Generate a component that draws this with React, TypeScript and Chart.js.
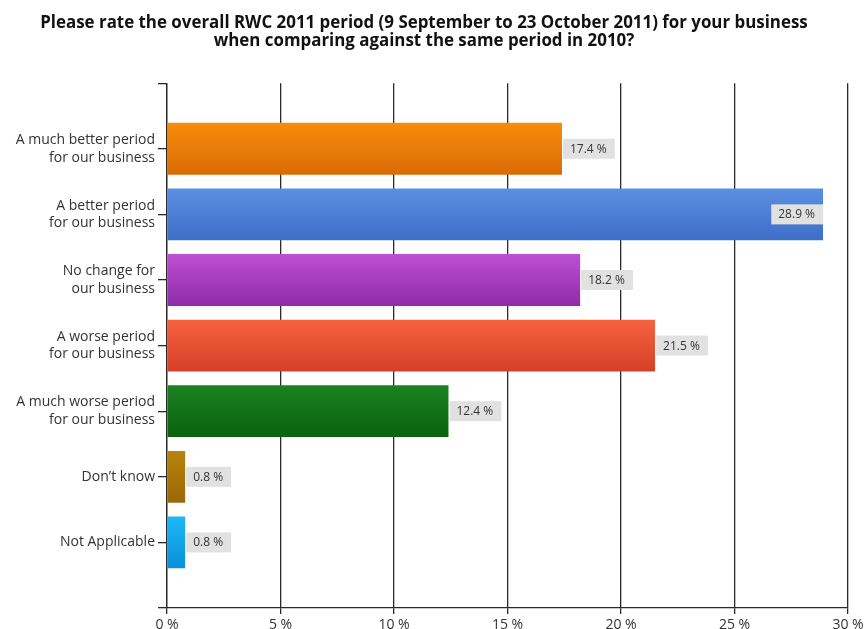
import React, { useEffect, useRef } from "react";
import { Chart, registerables } from "chart.js";

Chart.register(...registerables);

const TITLE_LINES = [
  "Please rate the overall RWC 2011 period (9 September to 23 October 2011) for your business",
  "when comparing against the same period in 2010?",
];

const CATEGORIES: string[][] = [
  ["A much better period", "for our business"],
  ["A better period", "for our business"],
  ["No change for", "our business"],
  ["A worse period", "for our business"],
  ["A much worse period", "for our business"],
  ["Don\u2019t know"],
  ["Not Applicable"],
];

const VALUES = [17.4, 28.9, 18.2, 21.5, 12.4, 0.8, 0.8];

const X_MIN = 0;
const X_MAX = 30;
const X_STEP = 5;

const GRADIENT_TOP = ["#F98C0C", "#5B8FE3", "#BD50D3", "#F6623F", "#1A8322", "#B8820C", "#1DB8F6"];
const GRADIENT_BOTTOM = ["#DA6A06", "#3E6DC7", "#8F2BA9", "#D5402A", "#0A620E", "#9C6808", "#0A90D6"];

const LABEL_FONT = '"Open Sans", "Liberation Sans", Arial, sans-serif';

const gradientPlugin = {
  id: "barGradient",
  beforeDatasetsDraw(chart: any) {
    const ctx = chart.ctx;
    const meta = chart.getDatasetMeta(0);
    meta.data.forEach((el: any, i: number) => {
      const h = el.height;
      const g = ctx.createLinearGradient(0, el.y - h / 2, 0, el.y + h / 2);
      g.addColorStop(0, GRADIENT_TOP[i]);
      g.addColorStop(1, GRADIENT_BOTTOM[i]);
      el.options.backgroundColor = g;
    });
  },
};

const valueLabelPlugin = {
  id: "valueLabels",
  afterDatasetsDraw(chart: any) {
    const ctx = chart.ctx;
    const meta = chart.getDatasetMeta(0);
    const area = chart.chartArea;
    ctx.save();
    ctx.font = `12px ${LABEL_FONT}`;
    ctx.textBaseline = "middle";
    ctx.textAlign = "left";
    meta.data.forEach((el: any, i: number) => {
      const text = `${VALUES[i]} %`;
      const tw = ctx.measureText(text).width;
      const bw = tw + 15;
      const bh = 20;
      let left = el.x + 1;
      if (left + bw > area.right) left = el.x - bw;
      ctx.fillStyle = "#E1E1E1";
      ctx.fillRect(left, el.y - bh / 2, bw, bh);
      ctx.fillStyle = "#333";
      ctx.fillText(text, left + 7, el.y + 0.5);
    });
    ctx.restore();
  },
};

export default function App() {
  const canvasRef = useRef<HTMLCanvasElement | null>(null);

  useEffect(() => {
    const canvas = canvasRef.current;
    if (!canvas) return;
    const chart = new Chart(canvas, {
      type: "bar",
      data: {
        datasets: [
          {
            data: VALUES.map((v, i) => ({ x: v, y: i })) as any,
            backgroundColor: GRADIENT_TOP,
            borderWidth: 0,
            barPercentage: 0.79,
            categoryPercentage: 1,
          },
        ],
      },
      options: {
        indexAxis: "y",
        responsive: false,
        animation: false,
        devicePixelRatio: 1,
        layout: { padding: { left: 0, right: 16, top: 0, bottom: 0 } },
        plugins: {
          legend: { display: false },
          tooltip: { enabled: false },
          title: {
            display: true,
            text: TITLE_LINES,
            color: "#111",
            font: { family: LABEL_FONT, size: 16.9, weight: "bold", lineHeight: 1.07 },
            padding: { top: 14, bottom: 33 },
          },
        },
        scales: {
          x: {
            type: "linear",
            position: "bottom",
            min: X_MIN,
            max: X_MAX,
            offset: false,
            ticks: {
              stepSize: X_STEP,
              color: "#333",
              font: { family: LABEL_FONT, size: 14 },
              padding: 3,
              callback: (v: any) => `${v} %`,
            },
            grid: { color: "#2a2a2a", lineWidth: 1.3, tickLength: 6, drawTicks: true, offset: false },
            border: { display: true, color: "#2a2a2a", width: 1.3 },
            afterFit: (scale: any) => {
              scale.height = 21;
              scale.paddingRight = 0;
              scale.paddingLeft = 0;
            },
          },
          y: {
            type: "linear",
            position: "left",
            reverse: true,
            offset: false,
            min: -1,
            max: CATEGORIES.length,
            ticks: {
              stepSize: 1,
              autoSkip: false,
              color: "#333",
              padding: 3,
              font: { family: LABEL_FONT, size: 14, lineHeight: 1.25 },
              callback: (v: any) => {
                const idx = Number(v);
                return Number.isInteger(idx) && idx >= 0 && idx < CATEGORIES.length ? CATEGORIES[idx] : "";
              },
            },
            grid: { drawOnChartArea: false, drawTicks: true, tickLength: 9, color: "#2a2a2a", lineWidth: 1.3, offset: false },
            border: { display: true, color: "#2a2a2a", width: 1.3 },
            afterFit: (scale: any) => {
              scale.width = 167;
            },
          },
        },
      } as any,
      plugins: [gradientPlugin, valueLabelPlugin],
    });
    return () => chart.destroy();
  }, []);

  return (
    <div style={{ position: "fixed", left: 0, top: 0, width: 864, height: 629, background: "#fff" }}>
      <canvas ref={canvasRef} width={864} height={629} style={{ width: 864, height: 629, display: "block" }} />
    </div>
  );
}
